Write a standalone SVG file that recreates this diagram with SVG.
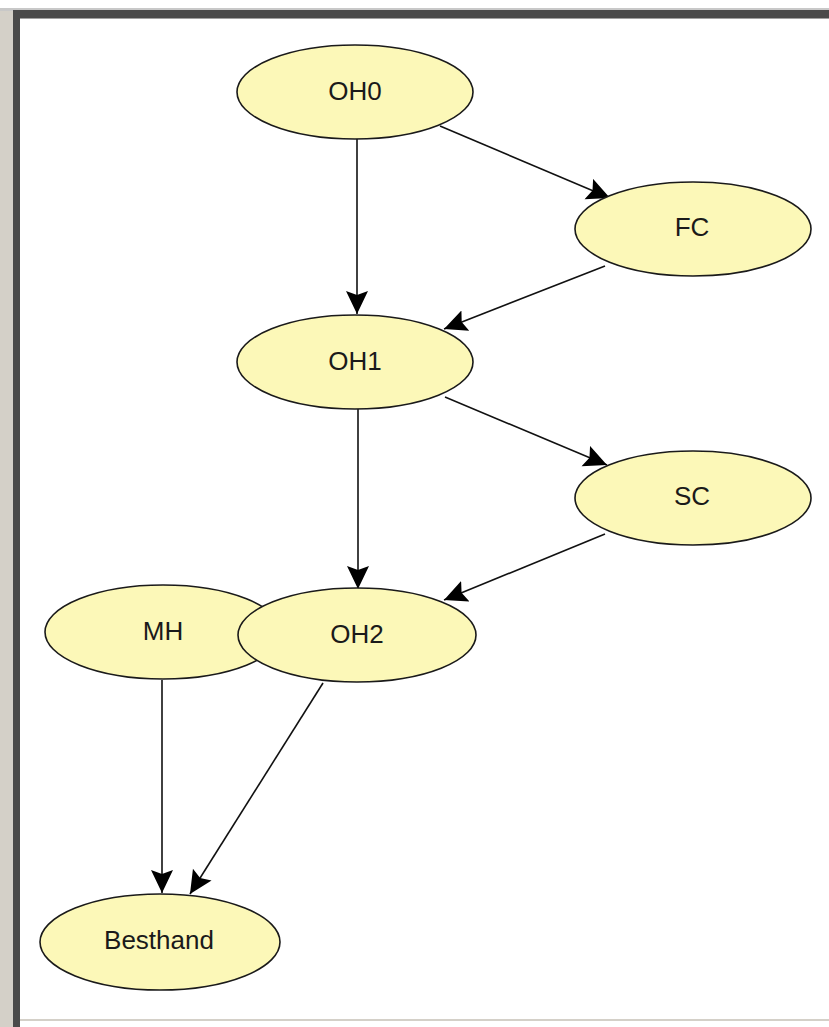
<svg xmlns="http://www.w3.org/2000/svg" width="829" height="1027" viewBox="0 0 829 1027">
<style>
.node ellipse{fill:#fcf8b8;stroke:#1a1a1a;stroke-width:1.6}
.node text{font-family:"Liberation Sans",Arial,sans-serif;font-size:26px;fill:#1a1a1a;text-anchor:middle;dominant-baseline:central}
.edges line{stroke:#111;stroke-width:1.6;marker-end:url(#arr)}
</style>
<defs>
<marker id="arr" markerUnits="userSpaceOnUse" markerWidth="26" markerHeight="24" refX="23" refY="11" orient="auto">
<path d="M0,0 L23,11 L0,22 L4,11 Z" fill="#000"/>
</marker>
</defs>
<rect x="0" y="0" width="829" height="1027" fill="#fff"/>
<rect x="0" y="0" width="13" height="1027" fill="#d4d0c8"/>
<rect x="0" y="0" width="829" height="9" fill="#fff"/>
<rect x="0" y="8" width="829" height="3" fill="#c8c8c8"/>
<rect x="13" y="10" width="816" height="8" fill="#4a4a4a"/>
<rect x="13" y="10" width="7" height="1017" fill="#4a4a4a"/>
<rect x="20" y="18" width="809" height="1" fill="#a0a0a0"/>
<rect x="20" y="1019" width="809" height="2" fill="#d4d0c8"/>
<g class="edges">
<line x1="357" y1="139" x2="357" y2="314"/>
<line x1="440" y1="126" x2="610" y2="198"/>
<line x1="605" y1="266" x2="444" y2="329"/>
<line x1="445" y1="397" x2="607" y2="465"/>
<line x1="358" y1="409" x2="358" y2="589"/>
<line x1="605" y1="534" x2="444" y2="600"/>
<line x1="162" y1="680" x2="162" y2="893"/>
<line x1="323" y1="683" x2="190" y2="894"/>
</g>
<g id="OH0" class="node"><ellipse cx="355" cy="92" rx="118" ry="47"/><text x="355" y="91">OH0</text></g>
<g id="FC" class="node"><ellipse cx="693" cy="229" rx="118" ry="47"/><text x="692" y="227">FC</text></g>
<g id="OH1" class="node"><ellipse cx="355" cy="362" rx="118" ry="47"/><text x="355" y="361">OH1</text></g>
<g id="SC" class="node"><ellipse cx="693" cy="498" rx="118" ry="47"/><text x="692" y="496">SC</text></g>
<g id="MH" class="node"><ellipse cx="163" cy="632" rx="118" ry="47"/><text x="163" y="631">MH</text></g>
<g id="OH2" class="node"><ellipse cx="357" cy="635" rx="119" ry="47"/><text x="357" y="634">OH2</text></g>
<g id="Besthand" class="node"><ellipse cx="160" cy="942" rx="120" ry="48"/><text x="159" y="940">Besthand</text></g>
</svg>
